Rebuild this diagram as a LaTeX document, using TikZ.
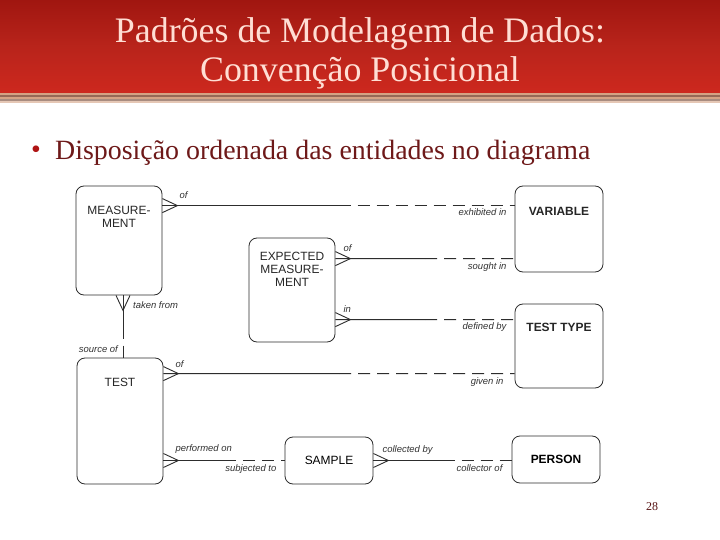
\documentclass[tikz,border=0pt]{standalone}
\usepackage{fontspec}
\setmainfont{Liberation Serif}
\setsansfont{Liberation Sans}
\usepackage{tikz}
\usetikzlibrary{calc,positioning}
\definecolor{bannerred}{RGB}{205,40,30}
\definecolor{bannerdark}{RGB}{160,22,16}
\definecolor{titlepink}{RGB}{255,222,212}
\definecolor{bodybrown}{RGB}{110,25,25}
\definecolor{bulletred}{RGB}{175,20,20}
\definecolor{stripetan}{RGB}{212,162,132}
\definecolor{stripebrown}{RGB}{150,104,86}
\definecolor{stripegrey}{RGB}{168,140,128}
\definecolor{erline}{RGB}{45,45,45}

\newcommand{\entfont}{\sffamily\fontsize{12}{13}\selectfont}
\newcommand{\relfont}{\sffamily\itshape\fontsize{9.5}{10}\selectfont}

% crow's foot at the first end, solid half, dashed half
\newcommand{\erlink}[2]{%
    \draw[rel] ($(#1)!7bp!90:(#2)$) -- ($(#1)!15bp!(#2)$) -- ($(#1)!7bp!-90:(#2)$);
    \draw[rel] (#1) -- ($(#1)!.5!(#2)$);
    \draw[rel,optional] ($(#1)!.5!(#2)$) -- (#2);}

\tikzset{
    ent/.style={draw=erline, line width=.8bp, rounded corners=8bp, font=\entfont,
        align=center, inner sep=0pt},
    enttext/.style={font=\entfont, align=center, inner sep=0pt, text=black!85},
    rel/.style={draw=erline, line width=.9bp},
    optional/.style={dash pattern=on 12bp off 7bp},
    rl/.style={font=\relfont, inner sep=1bp, text=black!80}
}

\begin{document}
\begin{tikzpicture}[x=1bp, y=-1bp]
    \useasboundingbox (0,0) rectangle (720,540);
    \fill[white] (0,0) rectangle (720,540);

    % banner
    \shade[top color=bannerdark, bottom color=bannerred, middle color=bannerred!90!black]
        (0,0) rectangle (720,93);
    \foreach \y/\c in {93/stripetan, 95/stripebrown, 97/stripetan, 99/stripegrey, 101/stripetan!60}
        \fill[\c] (0,\y) rectangle (720,\y+2);
    \node[text=titlepink, font=\fontsize{36}{39}\selectfont, align=center] (title) at (360,53)
        {Padrões de Modelagem de Dados:\\Convenção Posicional};

    \node[text=bulletred, font=\fontsize{28}{28}\selectfont, anchor=base west, inner sep=0pt] (dot) at (31,159) {\textbullet};
    \node[text=bodybrown, font=\fontsize{28}{30}\selectfont, anchor=base west, inner sep=0pt] (point)
        at (55,160) {Disposição ordenada das entidades no diagrama};

    % entities
    \node[ent, minimum width=86bp, minimum height=109bp,
        label={[enttext, below=20bp]north:{MEASURE-\\MENT}}] (meas) at (119,240.5) {};
    \node[ent, minimum width=86bp, minimum height=104bp,
        label={[enttext, below=14bp]north:{EXPECTED\\MEASURE-\\MENT}}] (exp) at (292,290) {};
    \node[ent, minimum width=88bp, minimum height=86bp,
        label={[enttext, below=21bp, font=\entfont\bfseries]north:VARIABLE}] (var) at (559,229) {};
    \node[ent, minimum width=88bp, minimum height=84bp,
        label={[enttext, below=19bp, font=\entfont\bfseries]north:TEST TYPE}] (ttype) at (559,346) {};
    \node[ent, minimum width=86bp, minimum height=126bp,
        label={[enttext, below=20bp]north:TEST}] (test) at (120,421) {};
    \node[ent, minimum width=88bp, minimum height=47bp] (sample) at (329,460.5) {SAMPLE};
    \node[ent, minimum width=88bp, minimum height=47bp, font=\entfont\bfseries] (person) at (556,459.5) {PERSON};

    % relationship ends
    \coordinate (mv-a) at ([yshift=-20bp]meas.north east);
    \coordinate (mv-b) at (var.west |- mv-a);
    \coordinate (ev-a) at ([yshift=-21bp]exp.north east);
    \coordinate (ev-b) at (var.west |- ev-a);
    \coordinate (et-a) at ([yshift=-82bp]exp.north east);
    \coordinate (et-b) at (ttype.west |- et-a);
    \coordinate (tt-a) at ([yshift=-16bp]test.north east);
    \coordinate (tt-b) at (ttype.west |- tt-a);
    \coordinate (ts-a) at (test.east |- sample.west);
    \coordinate (ts-b) at (sample.west);
    \coordinate (sp-a) at (sample.east);
    \coordinate (sp-b) at (person.west |- sp-a);
    \coordinate (mt-a) at ([xshift=4bp]meas.south);
    \coordinate (mt-b) at (test.north -| mt-a);

    \erlink{mv-a}{mv-b}
    \erlink{ev-a}{ev-b}
    \erlink{et-a}{et-b}
    \erlink{tt-a}{tt-b}
    \erlink{ts-a}{ts-b}
    \erlink{sp-a}{sp-b}
    \erlink{mt-a}{mt-b}

    % relationship names
    \node[rl, above right=6bp and 16bp of mv-a] (mv-of) {of};
    \node[rl, below left=2bp and 7bp of mv-b] (mv-ex) {exhibited in};
    \node[rl, above right=6bp and 7bp of ev-a] (ev-of) {of};
    \node[rl, below left=3bp and 7bp of ev-b] (ev-so) {sought in};
    \node[rl, above right=6bp and 7bp of et-a] (et-in) {in};
    \node[rl, below left=2bp and 7bp of et-b] (et-de) {defined by};
    \node[rl, above right=5bp and 11bp of tt-a] (tt-of) {of};
    \node[rl, below left=3bp and 10bp of tt-b] (tt-gi) {given in};
    \node[rl, above right=6bp and 11bp of ts-a] (ts-pe) {performed on};
    \node[rl, below left=3bp and 7bp of ts-b] (ts-su) {subjected to};
    \node[rl, above right=5bp and 8bp of sp-a] (sp-co) {collected by};
    \node[rl, below left=3bp and 8bp of sp-b] (sp-cr) {collector of};
    \node[rl, below right=5bp and 9bp of mt-a] (mt-ta) {taken from};
    \node[rl, above left=4bp and 4bp of mt-b] (mt-so) {source of};

    \node[text=bodybrown!80!black, font=\fontsize{12}{12}\selectfont, anchor=base] (page) at (652,510) {28};
\end{tikzpicture}
\end{document}
